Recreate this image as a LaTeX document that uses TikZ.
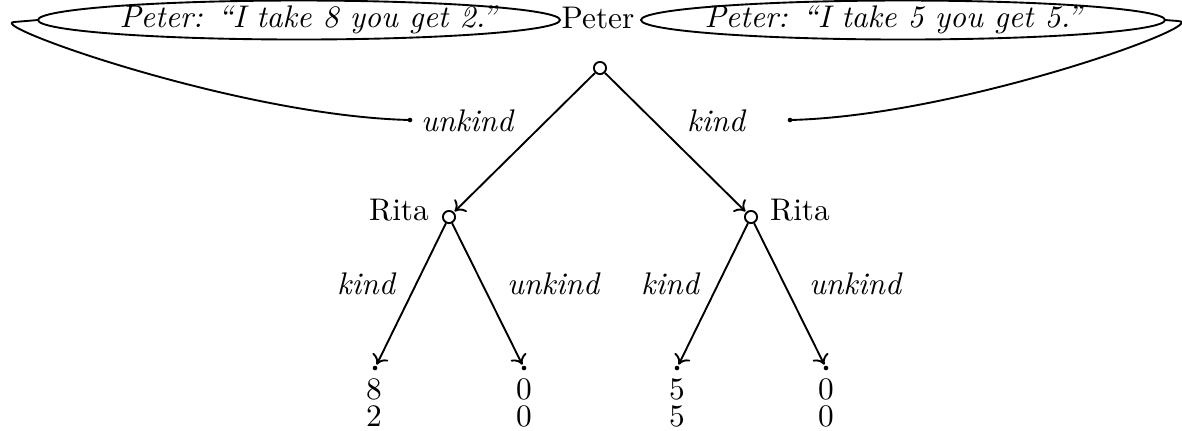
\documentclass[tikz,border=0pt]{standalone}
\usetikzlibrary{arrows.meta}
\begin{document}
\begin{tikzpicture}[x=0.345pt,y=-0.345pt,
  every node/.style={font=\fontsize{10.8}{13}\selectfont},
  dec/.style={circle,draw,fill=white,inner sep=0pt,minimum size=4.2pt,line width=0.65pt},
  leaf/.style={circle,fill,inner sep=0pt,minimum size=1.6pt},
  move/.style={line width=0.65pt,-{To[length=3.2pt,width=6pt]},shorten >=0.3pt},
  bubble/.style={line width=0.65pt},
  tail/.style={line width=0.65pt},
  lab/.style={anchor=base,inner sep=0pt,font=\fontsize{10.8}{13}\selectfont\itshape},
  txt/.style={anchor=base,inner sep=0pt}]
\useasboundingbox (0,0) rectangle (1182,430);
% decision nodes
\node[dec] (P) at (600,68) {};
\node[dec] (RL) at (449,217) {};
\node[dec] (RR) at (751,217) {};
\node[leaf] (L1) at (375,368) {};
\node[leaf] (L2) at (524,368) {};
\node[leaf] (L3) at (677,368) {};
\node[leaf] (L4) at (826,368) {};
% player labels
\node[txt] (tP) at (598,28) {Peter};
\node[txt] (tRL) at (399,220) {Rita};
\node[txt] (tRR) at (800,220) {Rita};
% edges
\draw[move] (P) -- (RL);
\draw[move] (P) -- (RR);
\draw[move] (RL) -- (L1);
\draw[move] (RL) -- (L2);
\draw[move] (RR) -- (L3);
\draw[move] (RR) -- (L4);
% edge labels
\node[lab] (eu) at (467,131) {unkind};
\node[lab] (ek) at (716,131) {kind};
\node[lab] (e1) at (366,294) {kind};
\node[lab] (e2) at (553,294) {unkind};
\node[lab] (e3) at (670,294) {kind};
\node[lab] (e4) at (855,294) {unkind};
% payoffs
\node[txt] (a1) at (374,399) {8};
\node[txt] (b1) at (374,426) {2};
\node[txt] (a2) at (524,399) {0};
\node[txt] (b2) at (524,426) {0};
\node[txt] (a3) at (677,399) {5};
\node[txt] (b3) at (677,426) {5};
\node[txt] (a4) at (826,399) {0};
\node[txt] (b4) at (826,426) {0};
% speech bubbles
\coordinate (cL) at (299,20);
\coordinate (wL) at (38,20);
\coordinate (cR) at (903,20);
\coordinate (eR) at (1165,20);
\draw[bubble] (cL) ellipse [x radius=261, y radius=19.5];
\draw[bubble] (cR) ellipse [x radius=262, y radius=19.5];
\node[lab] (sL) at (308,27.5) {Peter: ``I take 8 you get 2.''};
\node[lab] (sR) at (893,27.5) {Peter: ``I take 5 you get 5.''};
\node[leaf] (dL) at (410,120) {};
\node[leaf] (dR) at (790,120) {};
\draw[tail] (wL) -- (14,22) .. controls (-15,25) and (240,116) .. (dL.center);
\draw[tail] (eR) -- (1178,21) .. controls (1215,23) and (960,116) .. (dR.center);
\end{tikzpicture}
\end{document}
